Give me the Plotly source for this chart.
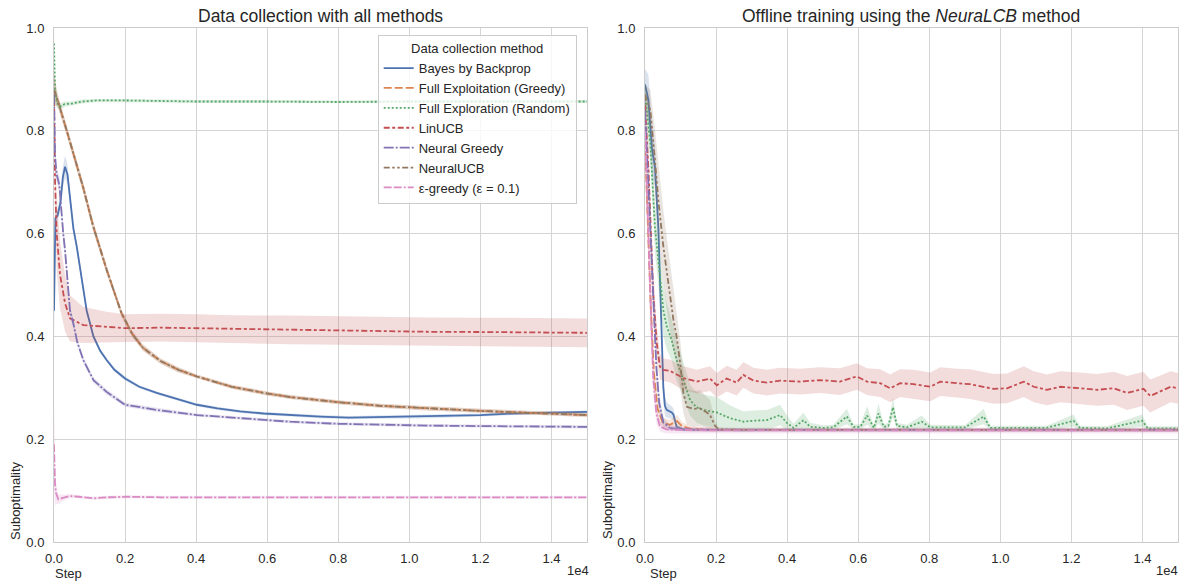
import plotly.graph_objects as go

# ---------------- data ----------------
NAMES = ["Bayes by Backprop", "Full Exploitation (Greedy)", "Full Exploration (Random)",
         "LinUCB", "Neural Greedy", "NeuralUCB", "ε-greedy (ε = 0.1)"]
COLORS = ["#4C72B0", "#DD8452", "#55A868", "#C44E52", "#8172B3", "#937860", "#DA8BC3"]
DASHES = ["solid", "8px,3px", "2px,2px", "6px,2.5px,3px,2.5px", "10px,2px,2px,2px",
          "6px,2.5px,2.5px,2.5px,2.5px,2.5px", "8px,2px,8px,2px,2px,2px"]
X_TICKVALS = [0, 2000, 4000, 6000, 8000, 10000, 12000, 14000]
X_TICKTEXT = ["0.0", "0.2", "0.4", "0.6", "0.8", "1.0", "1.2", "1.4"]
Y_TICKVALS = [0.0, 0.2, 0.4, 0.6, 0.8, 1.0]
Y_TICKTEXT = ["0.0", "0.2", "0.4", "0.6", "0.8", "1.0"]

# ----- left panel: data collection -----
L_BBB_STEP = [0, 40, 100, 180, 250, 310, 380, 450, 545, 640, 730, 825, 920, 1110, 1300, 1480, 1700, 2000,
              2400, 2890, 3400, 4020, 4600, 5240, 5900, 6650, 7500, 8300, 9180, 10590, 12000, 12930, 14000, 15000]
L_BBB_MEAN = [0.45, 0.63, 0.635, 0.66, 0.71, 0.73, 0.715, 0.665, 0.61, 0.575, 0.535, 0.49, 0.45, 0.40, 0.372,
              0.354, 0.335, 0.318, 0.302, 0.29, 0.279, 0.267, 0.26, 0.254, 0.25, 0.247, 0.244, 0.242, 0.243,
              0.244, 0.247, 0.25, 0.252, 0.253]
L_BBB_SD = [0.07, 0.012, 0.01, 0.015, 0.02, 0.022, 0.02, 0.015, 0.012, 0.01, 0.008, 0.007, 0.006, 0.005, 0.005,
            0.004, 0.004, 0.004, 0.003, 0.003, 0.003, 0.003, 0.003, 0.003, 0.003, 0.003, 0.003, 0.003, 0.003,
            0.003, 0.003, 0.003, 0.003, 0.003]

L_GRD_STEP = [0, 100, 360, 600, 820, 1100, 1480, 1900, 2200, 2500, 3000, 3500, 4020, 5000, 5990, 6650, 8000,
              9180, 10500, 12000, 13500, 15000]
L_GRD_MEAN = [0.88, 0.86, 0.80, 0.745, 0.69, 0.615, 0.53, 0.445, 0.405, 0.378, 0.352, 0.335, 0.322, 0.302,
              0.289, 0.282, 0.272, 0.265, 0.26, 0.255, 0.251, 0.247]
L_GRD_SD = [0.03, 0.012, 0.01, 0.01, 0.01, 0.01, 0.008, 0.007, 0.006, 0.006, 0.005, 0.005, 0.004, 0.004,
            0.004, 0.004, 0.004, 0.004, 0.004, 0.004, 0.004, 0.004]

L_RND_STEP = [0, 30, 80, 170, 300, 500, 800, 1200, 2000, 3000, 4000, 6000, 8000, 10000, 12000, 15000]
L_RND_MEAN = [0.97, 0.88, 0.855, 0.847, 0.852, 0.853, 0.857, 0.859, 0.859, 0.858, 0.857, 0.857, 0.856,
              0.857, 0.857, 0.857]
L_RND_SD = [0.03, 0.02, 0.01, 0.006, 0.005, 0.004, 0.004, 0.003, 0.003, 0.003, 0.003, 0.003, 0.003, 0.003,
            0.003, 0.003]

L_LIN_STEP = [0, 30, 75, 170, 310, 450, 825, 1480, 2000, 3000, 4020, 5000, 6650, 8000, 9180, 10500, 12000,
              13500, 15000]
L_LIN_MEAN = [0.87, 0.70, 0.60, 0.52, 0.465, 0.435, 0.422, 0.418, 0.416, 0.417, 0.416, 0.414, 0.4125, 0.411,
              0.41, 0.409, 0.4085, 0.408, 0.407]
L_LIN_SD = [0.05, 0.06, 0.07, 0.065, 0.055, 0.045, 0.035, 0.03, 0.027, 0.027, 0.027, 0.027, 0.028, 0.028,
            0.028, 0.028, 0.028, 0.028, 0.028]

L_NG_STEP = [0, 30, 75, 150, 260, 310, 450, 545, 650, 825, 1110, 1480, 2000, 2890, 4020, 5240, 6650, 8000,
             9180, 10500, 12000, 13500, 15000]
L_NG_MEAN = [0.87, 0.75, 0.715, 0.695, 0.60, 0.568, 0.45, 0.425, 0.39, 0.354, 0.315, 0.292, 0.267, 0.257,
             0.247, 0.241, 0.234, 0.23, 0.228, 0.2265, 0.2255, 0.2245, 0.224]
L_NG_SD = [0.03, 0.02, 0.015, 0.015, 0.015, 0.012, 0.01, 0.008, 0.007, 0.006, 0.005, 0.005, 0.004, 0.004,
           0.003, 0.003, 0.003, 0.003, 0.003, 0.003, 0.003, 0.003, 0.003]

L_NUCB_STEP = [0, 100, 360, 600, 820, 1100, 1480, 1900, 2200, 2500, 3000, 3500, 4020, 5000, 5990, 6650, 8000,
               9180, 10500, 12000, 13500, 15000]
L_NUCB_MEAN = [0.88, 0.86, 0.80, 0.745, 0.69, 0.615, 0.53, 0.445, 0.405, 0.378, 0.352, 0.335, 0.322, 0.302,
               0.289, 0.282, 0.272, 0.265, 0.26, 0.255, 0.251, 0.247]
L_NUCB_SD = [0.03, 0.012, 0.01, 0.01, 0.01, 0.01, 0.008, 0.007, 0.006, 0.006, 0.005, 0.005, 0.004, 0.004,
             0.004, 0.004, 0.004, 0.004, 0.004, 0.004, 0.004, 0.004]

L_EPS_STEP = [0, 30, 60, 120, 250, 450, 700, 1100, 1500, 2100, 3000, 5000, 7000, 9000, 11000, 13000, 15000]
L_EPS_MEAN = [0.19, 0.11, 0.095, 0.083, 0.086, 0.0895, 0.088, 0.085, 0.087, 0.088, 0.087, 0.087, 0.086,
              0.087, 0.087, 0.087, 0.087]
L_EPS_SD = [0.09, 0.04, 0.02, 0.01, 0.006, 0.004, 0.003, 0.003, 0.003, 0.003, 0.003, 0.003, 0.003, 0.003,
            0.003, 0.003, 0.003]

# ----- right panel: offline training with NeuraLCB -----
R_BBB_STEP = [0, 95, 200, 280, 375, 470, 516, 560, 610, 750, 800, 890, 1080, 1500, 2000, 3000, 4000, 5000,
              6000, 7000, 8000, 9000, 10000, 11000, 12000, 13000, 14000, 15000]
R_BBB_MEAN = [0.89, 0.86, 0.763, 0.73, 0.613, 0.419, 0.30, 0.265, 0.257, 0.252, 0.248, 0.224, 0.219, 0.218,
              0.218, 0.2178, 0.218, 0.2182, 0.218, 0.2178, 0.218, 0.218, 0.2182, 0.218, 0.2178, 0.218, 0.218,
              0.218]
R_BBB_SD = [0.03, 0.05, 0.05, 0.04, 0.03, 0.03, 0.025, 0.02, 0.015, 0.012, 0.012, 0.006, 0.004, 0.003, 0.003,
            0.003, 0.003, 0.003, 0.003, 0.003, 0.003, 0.003, 0.003, 0.003, 0.003, 0.003, 0.003, 0.003]

R_GRD_STEP = [0, 80, 160, 250, 350, 500, 700, 900, 1050, 1300, 2000, 3000, 4000, 5000, 6000, 7000, 8000, 9000,
              10000, 11000, 12000, 13000, 14000, 15000]
R_GRD_MEAN = [0.78, 0.62, 0.46, 0.33, 0.26, 0.232, 0.228, 0.235, 0.225, 0.22, 0.218, 0.218, 0.2182, 0.218,
              0.218, 0.2178, 0.218, 0.218, 0.218, 0.2182, 0.218, 0.218, 0.218, 0.218]
R_GRD_SD = [0.05, 0.05, 0.04, 0.03, 0.02, 0.01, 0.01, 0.012, 0.008, 0.005, 0.004, 0.004, 0.004, 0.004, 0.004,
            0.004, 0.004, 0.004, 0.004, 0.004, 0.004, 0.004, 0.004, 0.004]

R_RND_STEP = [0, 150, 280, 375, 516, 610, 750, 890, 1080, 1270, 1450, 1640, 2020, 2390, 2770, 3050, 3430, 3800,
              3990, 4180, 4460, 4650, 5000, 5300, 5680, 5870, 6060, 6250, 6440, 6570, 6720, 6850, 6980, 7090,
              7370, 7790, 8030, 8500, 9000, 9530, 9720, 10500, 11300, 12060, 12240, 13000, 13990, 14150, 15000]
R_RND_MEAN = [0.87, 0.776, 0.613, 0.549, 0.451, 0.42, 0.393, 0.354, 0.315, 0.276, 0.262, 0.257, 0.252, 0.241,
              0.234, 0.236, 0.237, 0.247, 0.232, 0.222, 0.237, 0.224, 0.222, 0.223, 0.244, 0.224, 0.224, 0.246,
              0.222, 0.25, 0.224, 0.226, 0.262, 0.226, 0.223, 0.234, 0.223, 0.223, 0.223, 0.244, 0.222, 0.222,
              0.222, 0.236, 0.222, 0.221, 0.236, 0.221, 0.221]
R_RND_SD = [0.03, 0.04, 0.05, 0.05, 0.05, 0.045, 0.04, 0.04, 0.035, 0.03, 0.03, 0.03, 0.03, 0.025, 0.02, 0.02,
            0.02, 0.02, 0.015, 0.008, 0.015, 0.008, 0.005, 0.005, 0.015, 0.005, 0.005, 0.018, 0.005, 0.02,
            0.005, 0.006, 0.02, 0.006, 0.005, 0.012, 0.005, 0.004, 0.004, 0.015, 0.004, 0.004, 0.004, 0.012,
            0.004, 0.004, 0.012, 0.004, 0.004]

R_LIN_STEP = [0, 100, 230, 330, 420, 516, 700, 985, 1080, 1460, 1830, 2020, 2300, 2580, 2770, 3050, 3430, 3800,
              4370, 4930, 5490, 5960, 6250, 6620, 6900, 7180, 7560, 8030, 8310, 8780, 9150, 9810, 10190, 10660,
              10940, 11310, 11690, 12250, 12720, 13190, 13570, 14030, 14220, 14500, 14790, 15000]
R_LIN_MEAN = [0.85, 0.72, 0.484, 0.387, 0.341, 0.335, 0.333, 0.322, 0.319, 0.312, 0.318, 0.305, 0.318, 0.31,
              0.325, 0.314, 0.31, 0.314, 0.312, 0.315, 0.312, 0.322, 0.312, 0.309, 0.299, 0.309, 0.307, 0.302,
              0.312, 0.309, 0.307, 0.298, 0.299, 0.312, 0.302, 0.296, 0.302, 0.299, 0.296, 0.299, 0.29, 0.298,
              0.284, 0.293, 0.302, 0.299]
R_LIN_SD = [0.04, 0.05, 0.05, 0.035, 0.025, 0.022, 0.022, 0.023, 0.023, 0.023, 0.024, 0.024, 0.025, 0.025,
            0.025, 0.025, 0.025, 0.025, 0.025, 0.025, 0.026, 0.026, 0.026, 0.027, 0.027, 0.027, 0.028, 0.028,
            0.028, 0.028, 0.029, 0.029, 0.029, 0.03, 0.03, 0.03, 0.03, 0.031, 0.031, 0.032, 0.033, 0.033,
            0.032, 0.031, 0.03, 0.03]

R_NG_STEP = [0, 80, 160, 240, 320, 400, 520, 700, 1000, 2000, 3000, 4000, 5000, 6000, 7000, 8000, 9000, 10000,
             11000, 12000, 13000, 14000, 15000]
R_NG_MEAN = [0.84, 0.72, 0.6, 0.47, 0.34, 0.27, 0.232, 0.222, 0.219, 0.218, 0.218, 0.2178, 0.218, 0.218,
             0.2182, 0.218, 0.218, 0.2178, 0.218, 0.218, 0.218, 0.2182, 0.218]
R_NG_SD = [0.03, 0.04, 0.04, 0.04, 0.03, 0.02, 0.01, 0.006, 0.004, 0.003, 0.003, 0.003, 0.003, 0.003, 0.003,
           0.003, 0.003, 0.003, 0.003, 0.003, 0.003, 0.003, 0.003]

R_NUCB_STEP = [0, 150, 280, 375, 516, 660, 800, 890, 990, 1080, 1180, 1350, 1550, 1740, 1830, 1970, 2070, 3000,
               4000, 5000, 6000, 7000, 8000, 9000, 10000, 11000, 12000, 13000, 14000, 15000]
R_NUCB_MEAN = [0.87, 0.84, 0.743, 0.665, 0.575, 0.497, 0.432, 0.40, 0.348, 0.29, 0.263, 0.259, 0.26, 0.252,
               0.247, 0.226, 0.219, 0.218, 0.218, 0.2182, 0.218, 0.218, 0.2178, 0.218, 0.218, 0.218, 0.2182,
               0.218, 0.218, 0.218]
R_NUCB_SD = [0.02, 0.04, 0.06, 0.07, 0.07, 0.07, 0.06, 0.05, 0.045, 0.04, 0.035, 0.035, 0.035, 0.03, 0.03,
             0.01, 0.004, 0.003, 0.003, 0.003, 0.003, 0.003, 0.003, 0.003, 0.003, 0.003, 0.003, 0.003, 0.003,
             0.003]

R_EPS_STEP = [0, 70, 150, 230, 320, 420, 600, 1000, 2000, 3000, 4000, 5000, 6000, 7000, 8000, 9000, 10000,
              11000, 12000, 13000, 14000, 15000]
R_EPS_MEAN = [0.80, 0.65, 0.45, 0.32, 0.25, 0.225, 0.219, 0.218, 0.217, 0.217, 0.2172, 0.217, 0.217, 0.2168,
              0.217, 0.217, 0.217, 0.2172, 0.217, 0.217, 0.217, 0.217]
R_EPS_SD = [0.05, 0.05, 0.04, 0.03, 0.02, 0.01, 0.008, 0.006, 0.006, 0.006, 0.006, 0.006, 0.006, 0.006, 0.006,
            0.006, 0.006, 0.006, 0.006, 0.006, 0.006, 0.006]

LEFT = [(L_BBB_STEP, L_BBB_MEAN, L_BBB_SD), (L_GRD_STEP, L_GRD_MEAN, L_GRD_SD),
        (L_RND_STEP, L_RND_MEAN, L_RND_SD), (L_LIN_STEP, L_LIN_MEAN, L_LIN_SD),
        (L_NG_STEP, L_NG_MEAN, L_NG_SD), (L_NUCB_STEP, L_NUCB_MEAN, L_NUCB_SD),
        (L_EPS_STEP, L_EPS_MEAN, L_EPS_SD)]
RIGHT = [(R_BBB_STEP, R_BBB_MEAN, R_BBB_SD), (R_GRD_STEP, R_GRD_MEAN, R_GRD_SD),
         (R_RND_STEP, R_RND_MEAN, R_RND_SD), (R_LIN_STEP, R_LIN_MEAN, R_LIN_SD),
         (R_NG_STEP, R_NG_MEAN, R_NG_SD), (R_NUCB_STEP, R_NUCB_MEAN, R_NUCB_SD),
         (R_EPS_STEP, R_EPS_MEAN, R_EPS_SD)]

# ---------------- figure ----------------
FONT = "Liberation Sans, Arial, sans-serif"
TXT = "#262626"


def rgba(hex_color, a):
    h = hex_color.lstrip("#")
    return "rgba(%d,%d,%d,%.2f)" % (int(h[0:2], 16), int(h[2:4], 16), int(h[4:6], 16), a)


fig = go.Figure()
for panel, series in enumerate([LEFT, RIGHT]):
    xa = "x" if panel == 0 else "x2"
    ya = "y" if panel == 0 else "y2"
    for i, (st, mu, sd) in enumerate(series):
        up = [m + s for m, s in zip(mu, sd)]
        lo = [m - s for m, s in zip(mu, sd)]
        fig.add_trace(go.Scatter(
            x=list(st) + list(st)[::-1], y=up + lo[::-1], fill="toself",
            fillcolor=rgba(COLORS[i], 0.2), line=dict(width=0), mode="lines",
            hoverinfo="skip", showlegend=False, xaxis=xa, yaxis=ya))
        fig.add_trace(go.Scatter(
            x=st, y=mu, mode="lines", name=NAMES[i],
            showlegend=(panel == 0),
            line=dict(color=COLORS[i], width=1.8, dash=DASHES[i]),
            xaxis=xa, yaxis=ya))

axis_common = dict(showgrid=True, gridcolor="#d5d5d5", gridwidth=1, showline=True, linecolor="#cccccc",
                   linewidth=1, mirror=True, ticks="", zeroline=False,
                   tickfont=dict(family=FONT, size=13, color=TXT))
D1 = [0, 0.4742]
D2 = [0.5258, 1]
fig.update_layout(
    width=1184, height=584, autosize=False,
    margin=dict(l=54, r=6, t=28, b=42),
    paper_bgcolor="white", plot_bgcolor="white",
    font=dict(family=FONT, size=13, color=TXT),
    xaxis=dict(domain=D1, range=[0, 15000], tickvals=X_TICKVALS, ticktext=X_TICKTEXT,
               anchor="y", ticklabelstandoff=4, **axis_common),
    yaxis=dict(domain=[0, 1], range=[0, 1], tickvals=Y_TICKVALS, ticktext=Y_TICKTEXT,
               anchor="x", ticklabelstandoff=6, **axis_common),
    xaxis2=dict(domain=D2, range=[0, 15000], tickvals=X_TICKVALS, ticktext=X_TICKTEXT,
                anchor="y2", ticklabelstandoff=4, **axis_common),
    yaxis2=dict(domain=[0, 1], range=[0, 1], tickvals=Y_TICKVALS, ticktext=Y_TICKTEXT,
                anchor="x2", ticklabelstandoff=6, **axis_common),
    legend=dict(x=0.288, y=0.986, xanchor="left", yanchor="top",
                bgcolor="rgba(255,255,255,0.8)", bordercolor="#cccccc", borderwidth=1,
                font=dict(family=FONT, size=13, color=TXT), itemwidth=30, tracegroupgap=0,
                title=dict(text="Data collection method", side="top center",
                           font=dict(family=FONT, size=13, color=TXT))),
    showlegend=True,
)

ann = [
    dict(text="Data collection with all methods", x=sum(D1) / 2, y=1, yanchor="bottom", yshift=0,
         font=dict(size=17.5)),
    dict(text="Offline training using the <i>NeuraLCB</i> method", x=sum(D2) / 2, y=1, yanchor="bottom",
         yshift=0, font=dict(size=17.5)),
    dict(text="Step", x=0.0125, y=0, yanchor="middle", yshift=-31),
    dict(text="Step", x=0.5427, y=0, yanchor="middle", yshift=-31),
    dict(text="Suboptimality", x=-0.0347, y=0.0817, textangle=-90, xanchor="center", yanchor="middle"),
    dict(text="Suboptimality", x=0.492, y=0.0817, textangle=-90, xanchor="center", yanchor="middle"),
    dict(text="1e4", x=0.4662, y=0, yanchor="middle", yshift=-28),
    dict(text="1e4", x=0.9902, y=0, yanchor="middle", yshift=-28),
]
for a in ann:
    a.setdefault("font", {})
    a["font"] = dict(family=FONT, size=a["font"].get("size", 13), color=TXT)
    a.update(xref="paper", yref="paper", showarrow=False)
    a.setdefault("xanchor", "center")
fig.update_layout(annotations=ann)

fig.write_html(
    "out.html",
    config={"displayModeBar": False},
    post_script="document.body.style.margin='0px';document.body.style.overflow='hidden';"
                "document.documentElement.style.overflow='hidden';",
)
